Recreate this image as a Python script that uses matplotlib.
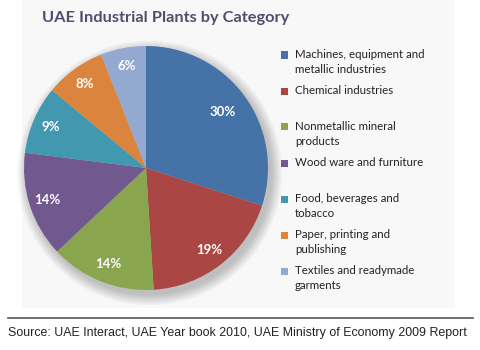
import numpy as np
import matplotlib.pyplot as plt
from matplotlib.patches import Rectangle, Circle

categories = [
    "Machines, equipment and\nmetallic industries",
    "Chemical industries",
    "Nonmetallic mineral\nproducts",
    "Wood ware and furniture",
    "Food, beverages and\ntobacco",
    "Paper, printing and\npublishing",
    "Textiles and readymade\ngarments",
]
shares = [30, 19, 14, 14, 9, 8, 6]
colors = ["#4572A7", "#AA4643", "#89A54E", "#71588F", "#4198AF", "#DB843D", "#93A9CF"]

W, H = 480, 350
fig = plt.figure(figsize=(4.8, 3.5), dpi=100)
fig.patch.set_facecolor("white")

# light panel behind the chart
fig.patches.append(Rectangle((22 / W, 1 - 308 / H), 433 / W, 308 / H,
                             transform=fig.transFigure, facecolor="#F8F8F8",
                             edgecolor="none", zorder=-5))

cx, cy, r = 146, 168, 122
pad = 1.12
ax = fig.add_axes([(cx - r * pad) / W, (H - cy - r * pad) / H,
                   2 * r * pad / W, 2 * r * pad / H])
ax.patch.set_alpha(0)

# soft shadow
for k in range(12):
    ax.add_patch(Circle((0.03, -0.04), 1.0 + 0.008 * k, color="black",
                        alpha=0.018, lw=0, zorder=0))

wedges, texts, autotexts = ax.pie(
    shares, colors=colors, startangle=90, counterclock=False, radius=1.0,
    autopct=lambda p: f"{p:.0f}%", pctdistance=0.85,
    wedgeprops=dict(edgecolor="none"),
    textprops=dict(color="white", fontsize=9.5, fontweight="bold", family="Lato"),
)
autotexts[0].set_position((0.63, 0.46))
ax.set_xlim(-pad, pad)
ax.set_ylim(-pad, pad)
ax.set_aspect("auto")
ax.axis("off")

fig.text(42 / W, 1 - 18 / H, "UAE Industrial Plants by Category", fontsize=11.8,
         fontweight="bold", color="#4F4F6B", family="Lato", va="center", ha="left")

# legend, evenly spaced slots
y0, step = 55, 36
for i, (lab, c) in enumerate(zip(categories, colors)):
    y = y0 + i * step
    fig.patches.append(Rectangle((281 / W, 1 - (y + 3.5) / H), 7 / W, 7 / H,
                                 transform=fig.transFigure, facecolor=c,
                                 edgecolor="none"))
    fig.text(295 / W, 1 - (y - 6) / H, lab, fontsize=8.3, color="#222222",
             family="Lato", va="top", ha="left", linespacing=1.4)

fig.add_artist(plt.Line2D([8 / W, 473 / W], [1 - 318 / H, 1 - 318 / H],
                          transform=fig.transFigure, color="#555555", lw=1.2))
fig.text(8 / W, 1 - 333 / H,
         "Source: UAE Interact, UAE Year book 2010, UAE Ministry of Economy 2009 Report",
         fontsize=8.9, color="#222222", family="Liberation Sans", va="center", ha="left")

fig.savefig("out.png", dpi=100)
